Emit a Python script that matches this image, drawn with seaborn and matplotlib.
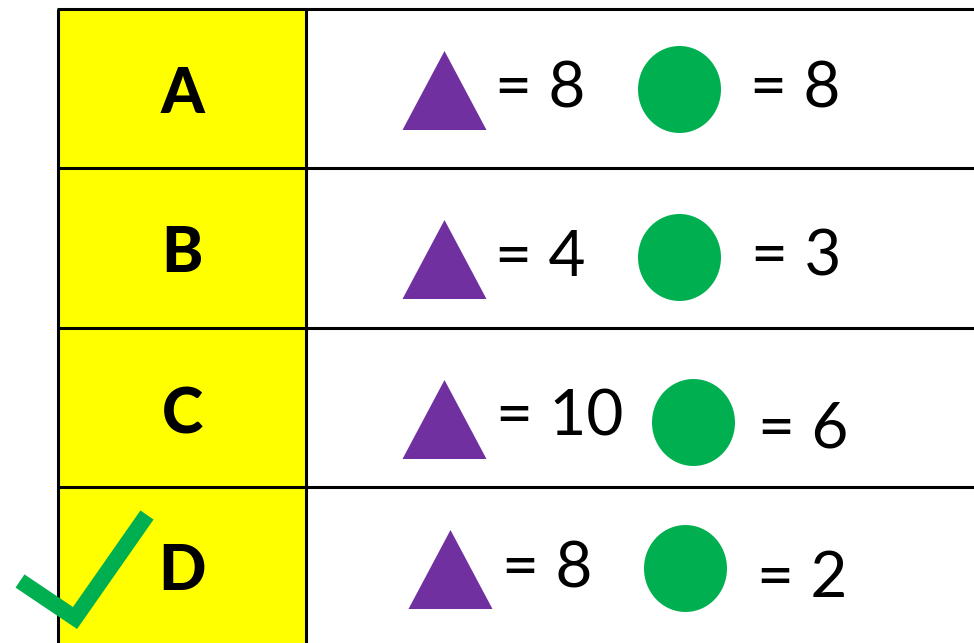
import numpy as np
import pandas as pd
import matplotlib
matplotlib.use('Agg')
import matplotlib.pyplot as plt
import seaborn as sns

sns.set_style('white')
plt.rcParams['font.family'] = ['Lato', 'DejaVu Sans']

# Data
options = ['A', 'B', 'C', 'D']
triangle_vals = [8, 4, 10, 8]
circle_vals = [8, 3, 6, 2]
correct = 'D'

# Layout (pixel coords, y grows downward)
row_lines = [9, 168, 327.5, 487]
tri_x = [444, 444, 444, 450]
tri_y = [89.5, 258.5, 419, 568.5]
circ_x = [678.5, 678.5, 693, 685]
circ_y = [88.5, 257, 421.5, 568]
txt1_x = [495, 495, 496, 502]
txt1_y = [107, 276, 436, 587]
txt2_x = [750, 751, 758, 757]
txt2_y = [107, 276, 447, 597]
letter_y = [113, 272, 434, 590]

PURPLE = '#7030A0'
GREEN = '#00B050'
YELLOW = '#FFFF00'

fig = plt.figure(figsize=(9.74, 6.43), dpi=100)
ax = fig.add_axes([0, 0, 1, 1])

# yellow label column + grid lines
ax.fill_between([58, 305.5], 9, 643, color=YELLOW, lw=0, zorder=0)
ax.hlines(row_lines, 57, 974, color='black', lw=2.2, zorder=2)
ax.vlines([58, 305.5], 9, 643, color='black', lw=2.2, zorder=2)

# shape markers
tri_marker = [(-42, -39.5), (42, -39.5), (0, 39.5), (-42, -39.5)]
t = np.linspace(0, 2 * np.pi, 90)
ell_marker = list(zip(41.5 * np.cos(t), 43.5 * np.sin(t)))

tri_df = pd.DataFrame({'x': tri_x, 'y': tri_y, 'val': triangle_vals})
circ_df = pd.DataFrame({'x': circ_x, 'y': circ_y, 'val': circle_vals})
sns.scatterplot(data=tri_df, x='x', y='y', marker=tri_marker, s=(84 * 0.72) ** 2,
                color=PURPLE, linewidth=0, ax=ax, zorder=3, legend=False)
sns.scatterplot(data=circ_df, x='x', y='y', marker=ell_marker, s=(87 * 0.72) ** 2,
                color=GREEN, linewidth=0, ax=ax, zorder=3, legend=False)

for i, opt in enumerate(options):
    ax.text(182, letter_y[i], opt, fontsize=45, fontweight='black', color='black',
            ha='center', va='baseline', zorder=4)
    ax.text(txt1_x[i], txt1_y[i], '= {}'.format(triangle_vals[i]), fontsize=46,
            fontweight='normal', color='black', ha='left', va='baseline', zorder=4)
    ax.text(txt2_x[i], txt2_y[i], '= {}'.format(circle_vals[i]), fontsize=46,
            fontweight='normal', color='black', ha='left', va='baseline', zorder=4)

# tick mark next to the right answer
ax.plot([20, 75, 147], [581, 618, 515], color=GREEN, lw=11.5,
        solid_joinstyle='miter', solid_capstyle='butt', zorder=5)

ax.set_xlim(0, 974)
ax.set_ylim(643, 0)
ax.set_axis_off()

plt.savefig('out.png', dpi=100)
